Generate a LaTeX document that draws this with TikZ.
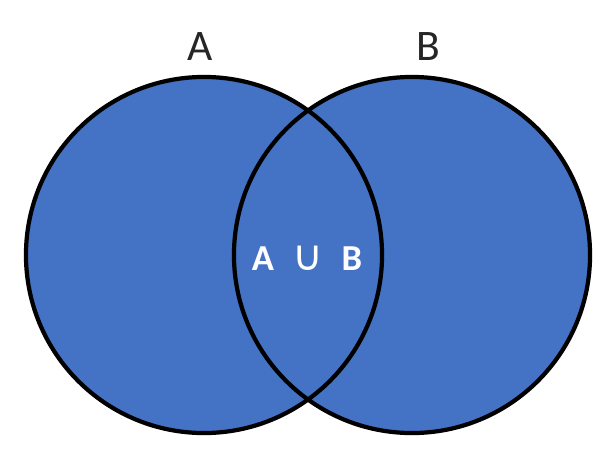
\documentclass[tikz,border=0pt]{standalone}
\usepackage{fontspec}
\setmainfont{Carlito}
\newfontfamily\symfont{DejaVu Sans}
\usetikzlibrary{positioning}
\definecolor{setblue}{RGB}{68,114,196}

\tikzset{
  setdisc/.style={circle, fill=setblue, minimum size=8.9cm, inner sep=0pt},
  setline/.style={draw=black, line width=3pt},
  setlabel/.style={font=\fontsize{31}{31}\selectfont, text=black!85},
  unionlabel/.style={font=\bfseries\fontsize{26}{26}\selectfont, text=white}
}

\begin{document}
\begin{tikzpicture}[x=0.025cm, y=-0.025cm]
  \useasboundingbox (0,0) rectangle (616,460);

  % the two sets
  \node[setdisc] (setA) at (204,255) {};
  \node[setdisc] (setB) at (412,255) {};
  \draw[setline] (setA.center) circle[radius=4.45cm];
  \draw[setline] (setB.center) circle[radius=4.45cm];

  % labels
  \node[setlabel] (labA) at (200,47) {A};
  \node[setlabel] (labB) at (428,47) {B};
  \node[unionlabel] (union) at (307,258) {A\hspace{0.5em}{\symfont\mdseries\fontsize{30}{30}\selectfont ∪}\hspace{0.5em}B};
\end{tikzpicture}
\end{document}
